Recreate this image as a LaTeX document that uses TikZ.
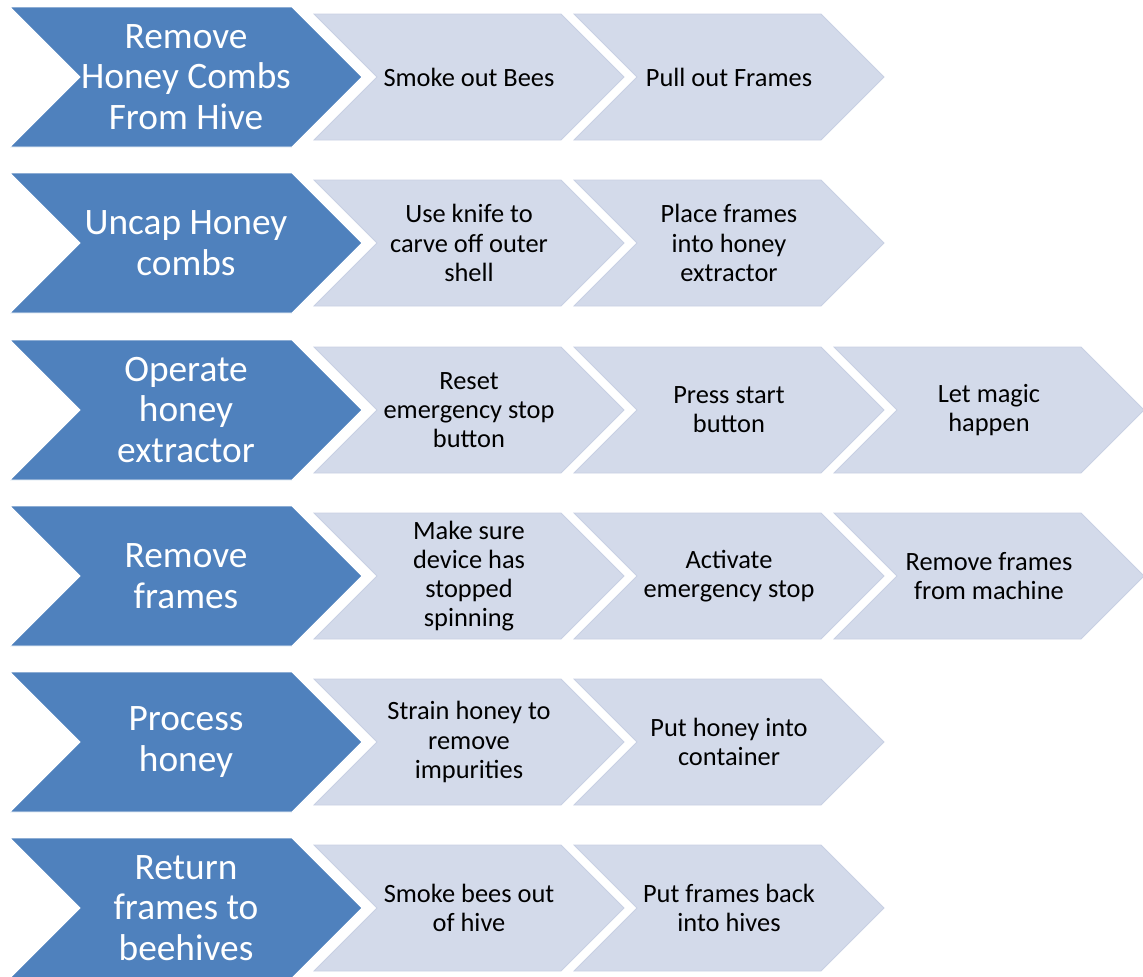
\documentclass[tikz,border=0pt]{standalone}
\usepackage{fontspec}
\setmainfont{Carlito}
\usetikzlibrary{shapes.symbols}
\definecolor{stageblue}{RGB}{79,129,189}
\definecolor{taskfill}{RGB}{211,218,234}
\definecolor{taskline}{RGB}{200,208,227}
\begin{document}
\begin{tikzpicture}[x=0.75pt,y=-0.75pt]
	\tikzstyle{chevron}=[signal,signal to=east,signal from=west,signal pointer angle=90,inner sep=0pt,outer sep=0pt,align=center]
	\tikzstyle{stage}=[chevron,fill=stageblue,draw=white,line width=0.6pt,text=white,minimum width=264pt,minimum height=105pt,font=\fontsize{28}{30.5}\selectfont]
	\tikzstyle{task}=[chevron,fill=taskfill,draw=taskline,line width=0.6pt,text=black,minimum width=232.5pt,minimum height=94.5pt,font=\fontsize{19.8}{21.9}\selectfont]
	\useasboundingbox (0,0) rectangle (1143,976);
	% main stages
	\begin{scope}
		\node [stage] (h1) at (186,77) {Remove\\Honey Combs\\From Hive};
		\node [stage] (h2) at (186,243) {Uncap Honey\\combs};
		\node [stage] (h3) at (186,410) {Operate\\honey\\extractor};
		\node [stage] (h4) at (186,576) {Remove\\frames};
		\node [stage] (h5) at (186,742) {Process\\honey};
		\node [stage] (h6) at (186,908) {Return\\frames to\\beehives};
	\end{scope}
	% tasks of each stage
	\begin{scope}
		\node [task] (t11) at (469,77) {Smoke out Bees};
		\node [task] (t12) at (729,77) {Pull out Frames};
		\node [task] (t21) at (469,243) {Use knife to\\carve off outer\\shell};
		\node [task] (t22) at (729,243) {Place frames\\into honey\\extractor};
		\node [task] (t31) at (469,410) {Reset\\emergency stop\\button};
		\node [task] (t32) at (729,410) {Press start\\button};
		\node [task] (t33) at (989,410) {Let magic\\happen};
		\node [task] (t41) at (469,576) {Make sure\\device has\\stopped\\spinning};
		\node [task] (t42) at (729,576) {Activate\\emergency stop};
		\node [task] (t43) at (989,576) {Remove frames\\from machine};
		\node [task] (t51) at (469,742) {Strain honey to\\remove\\impurities};
		\node [task] (t52) at (729,742) {Put honey into\\container};
		\node [task] (t61) at (469,908) {Smoke bees out\\of hive};
		\node [task] (t62) at (729,908) {Put frames back\\into hives};
	\end{scope}
\end{tikzpicture}
\end{document}
